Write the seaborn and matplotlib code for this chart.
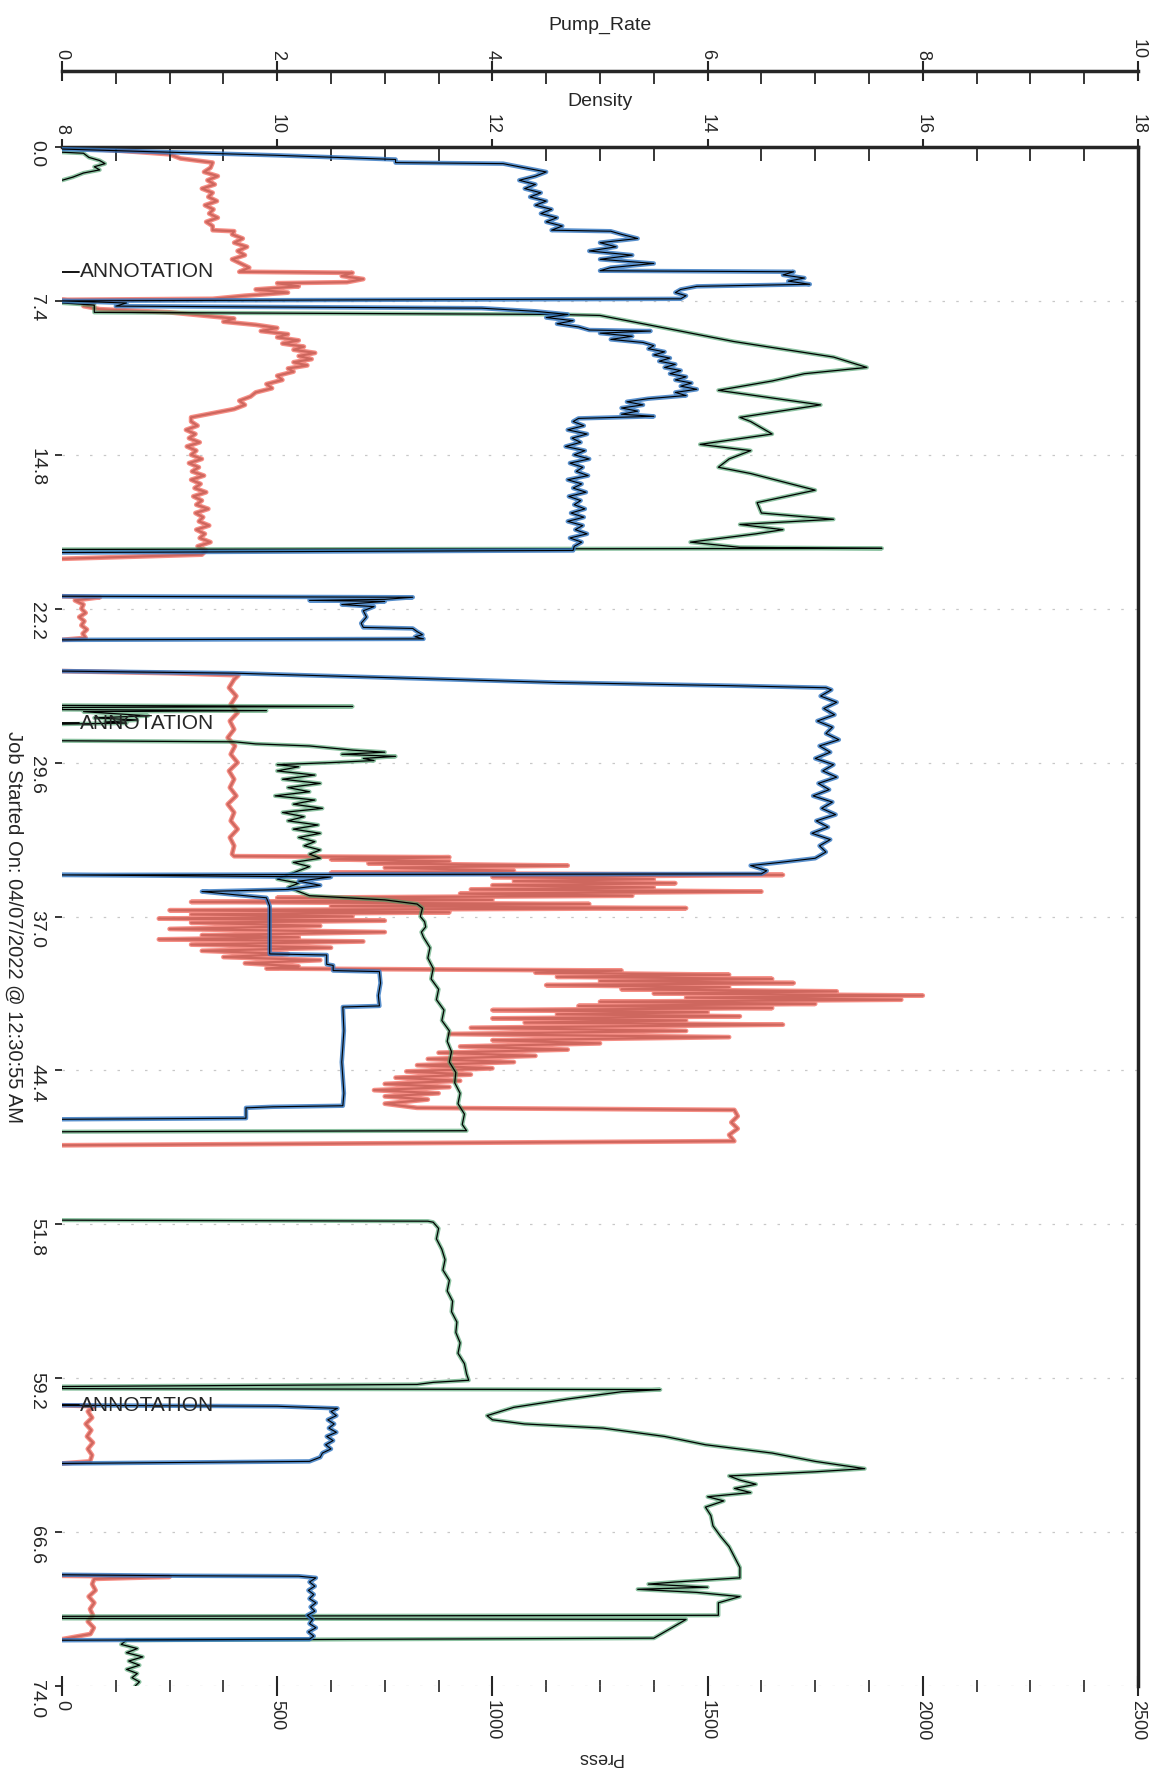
import pandas as pd
import seaborn as sns
import matplotlib.pyplot as plt
from matplotlib.ticker import MultipleLocator

sns.set_style('white')
plt.rcParams['font.family'] = ['Liberation Sans', 'DejaVu Sans']

# each list is one continuous run of the recorder: (elapsed minutes, value)
press_a = [(0.0, 0), (0.2, 150), (0.35, 250), (0.55, 275), (0.75, 350),
           (1.0, 345), (1.2, 330), (1.4, 362), (1.6, 338), (1.8, 355), (2.0, 325), (2.2, 350),
           (2.4, 340), (2.6, 360), (2.8, 332), (3.0, 352), (3.2, 342), (3.4, 362), (3.6, 335),
           (3.8, 350), (4.0, 350), (4.05, 400), (4.2, 395), (4.4, 420), (4.6, 400), (4.8, 430),
           (5.0, 408), (5.2, 425), (5.4, 395), (5.6, 415), (5.8, 435), (6.0, 412),
           (6.05, 675), (6.2, 650), (6.35, 700), (6.5, 662), (6.55, 500), (6.7, 550), (6.85, 450),
           (7.0, 525), (7.15, 425), (7.3, 350), (7.35, 0), (7.5, 75), (7.65, 50), (7.8, 88),
           (7.95, 250), (8.1, 325), (8.25, 400), (8.4, 375), (8.55, 450), (8.7, 500), (8.85, 462),
           (9.0, 525), (9.15, 500), (9.3, 550), (9.45, 512), (9.6, 562), (9.75, 538), (9.9, 588),
           (10.05, 550), (10.2, 580), (10.35, 538), (10.5, 570), (10.65, 525), (10.8, 538),
           (11.0, 500), (11.2, 512), (11.4, 475), (11.6, 488), (11.8, 450), (12.0, 438),
           (12.2, 412), (12.4, 425), (12.6, 400), (12.8, 350), (13.0, 300),
           (13.2, 300), (13.4, 315), (13.6, 288), (13.8, 310), (14.0, 295), (14.2, 320),
           (14.4, 290), (14.6, 312), (14.8, 300), (15.0, 325), (15.2, 295), (15.4, 318),
           (15.6, 302), (15.8, 330), (16.0, 300), (16.2, 322), (16.4, 308), (16.6, 335),
           (16.8, 305), (17.0, 325), (17.2, 312), (17.4, 340), (17.6, 310), (17.8, 328),
           (18.0, 318), (18.2, 342), (18.4, 312), (18.6, 332), (18.8, 320), (19.0, 345),
           (19.2, 315), (19.4, 335), (19.6, 325), (19.8, 0)]
press_b = [(21.6, 0), (21.65, 88), (21.8, 30), (22.0, 50), (22.2, 45), (22.4, 55), (22.6, 40),
           (22.8, 52), (23.0, 45), (23.2, 58), (23.4, 48), (23.6, 55), (23.7, 0)]
press_c = [(25.2, 0), (25.3, 250), (25.4, 410), (25.6, 400), (26.0, 388), (26.4, 405),
           (26.8, 392), (27.2, 408), (27.6, 390), (28.0, 400), (28.4, 385), (28.8, 402),
           (29.2, 392), (29.6, 408), (30.0, 388), (30.4, 400), (30.8, 390), (31.2, 405),
           (31.6, 385), (32.0, 400), (32.4, 392), (32.8, 408), (33.2, 390), (33.6, 400),
           (34.0, 395), (34.1, 400), (34.15, 900), (34.25, 625), (34.35, 900), (34.45, 712),
           (34.55, 1175), (34.65, 750), (34.8, 1050), (34.9, 625), (35.0, 1675), (35.1, 1000),
           (35.2, 1375), (35.3, 1050), (35.4, 1425), (35.5, 1000), (35.6, 1375), (35.7, 950),
           (35.8, 1625), (35.9, 925), (36.0, 1325), (36.1, 500), (36.2, 1000), (36.3, 300),
           (36.4, 1225), (36.5, 625), (36.6, 1450), (36.7, 250), (36.8, 900), (36.9, 300),
           (37.0, 675), (37.1, 225), (37.2, 750), (37.3, 300), (37.45, 600), (37.6, 250),
           (37.75, 750), (37.9, 325), (38.0, 550), (38.1, 225), (38.2, 700), (38.35, 300),
           (38.5, 625), (38.65, 325), (38.8, 525), (38.95, 375), (39.1, 600), (39.25, 425),
           (39.4, 550), (39.5, 475), (39.6, 1300), (39.7, 1100), (39.8, 1550), (39.9, 1150),
           (40.0, 1650), (40.1, 1250), (40.2, 1700), (40.3, 1125), (40.4, 1550), (40.5, 1300),
           (40.6, 1800), (40.7, 1375), (40.8, 2000), (40.9, 1450), (41.0, 1950), (41.1, 1250),
           (41.2, 1750), (41.3, 1200), (41.4, 1650), (41.5, 1000), (41.6, 1500), (41.7, 1150),
           (41.8, 1575), (41.9, 1000), (42.0, 1450), (42.1, 1075), (42.2, 1675), (42.35, 950),
           (42.5, 1450), (42.65, 900), (42.8, 1550), (42.95, 1000), (43.1, 1250), (43.25, 925),
           (43.4, 1175), (43.55, 875), (43.7, 1100), (43.85, 850), (44.0, 1050), (44.15, 825),
           (44.3, 1000), (44.45, 800), (44.6, 950), (44.75, 775), (44.9, 925), (45.05, 750),
           (45.2, 900), (45.35, 725), (45.5, 875), (45.65, 750), (45.8, 850), (46.0, 750),
           (46.2, 825), (46.3, 1562), (46.6, 1570), (46.9, 1555), (47.2, 1570), (47.5, 1550),
           (47.8, 1562), (48.0, 0)]
press_e1 = [(60.5, 0), (60.55, 75), (60.8, 60), (61.1, 70), (61.4, 55), (61.7, 68), (62.0, 58),
            (62.3, 72), (62.6, 60), (62.9, 70), (63.2, 65), (63.3, 0)]
press_e2 = [(68.7, 0), (68.75, 250), (68.85, 75), (69.1, 70), (69.4, 78), (69.7, 62),
            (70.0, 75), (70.3, 65), (70.6, 72), (70.9, 60), (71.2, 74), (71.5, 66), (71.75, 0)]

rate_a = [(0.1, 0.0), (0.25, 1.0), (0.4, 2.0), (0.6, 3.1), (0.75, 3.1), (0.8, 4.1), (1.0, 4.3),
          (1.2, 4.5), (1.4, 4.4), (1.6, 4.25), (1.8, 4.4), (2.0, 4.3), (2.2, 4.45), (2.4, 4.35),
          (2.6, 4.5), (2.8, 4.4), (3.0, 4.55), (3.2, 4.45), (3.4, 4.6), (3.6, 4.5), (3.8, 4.65),
          (4.0, 4.55), (4.05, 5.1), (4.2, 5.2), (4.4, 5.35), (4.6, 5.0), (4.8, 5.15), (5.0, 4.9),
          (5.2, 5.3), (5.4, 5.0), (5.6, 5.5), (5.8, 5.1), (5.95, 5.0), (6.0, 6.8), (6.15, 6.7),
          (6.3, 6.9), (6.45, 6.75), (6.6, 6.95), (6.7, 5.9), (6.85, 5.75), (7.0, 5.7),
          (7.15, 5.8), (7.3, 5.75), (7.4, 0.0), (7.5, 0.6), (7.65, 0.5), (7.75, 3.9),
          (7.9, 4.4), (8.05, 4.7), (8.2, 4.5), (8.35, 4.75), (8.5, 4.6), (8.65, 4.8), (8.8, 4.9),
          (8.85, 5.47), (8.95, 5.0), (9.1, 5.3), (9.25, 5.1), (9.4, 5.4), (9.55, 5.5),
          (9.7, 5.45), (9.85, 5.6), (10.0, 5.5), (10.15, 5.65), (10.3, 5.55), (10.45, 5.7),
          (10.6, 5.6), (10.75, 5.75), (10.9, 5.65), (11.05, 5.8), (11.2, 5.7), (11.35, 5.85),
          (11.5, 5.75), (11.65, 5.9), (11.8, 5.7), (11.95, 5.8), (12.1, 5.45), (12.25, 5.25),
          (12.4, 5.4), (12.55, 5.2), (12.7, 5.35), (12.85, 5.2), (12.95, 5.5), (13.05, 4.8),
          (13.2, 4.75), (13.4, 4.85), (13.6, 4.7), (13.8, 4.88), (14.0, 4.74), (14.2, 4.82),
          (14.4, 4.68), (14.6, 4.86), (14.8, 4.76), (15.0, 4.9), (15.2, 4.72), (15.4, 4.84),
          (15.6, 4.78), (15.8, 4.89), (16.0, 4.7), (16.2, 4.83), (16.4, 4.75), (16.6, 4.87),
          (16.8, 4.71), (17.0, 4.82), (17.2, 4.76), (17.4, 4.86), (17.6, 4.73), (17.8, 4.85),
          (18.0, 4.7), (18.2, 4.84), (18.4, 4.77), (18.6, 4.88), (18.8, 4.72), (19.0, 4.83),
          (19.2, 4.76), (19.4, 4.75), (19.5, 0.0)]
rate_b = [(21.6, 0.0), (21.65, 3.26), (21.75, 3.0), (21.8, 2.3), (21.85, 3.0), (22.0, 2.6),
          (22.1, 2.9), (22.3, 2.8), (22.6, 2.83), (22.9, 2.78), (23.1, 2.8), (23.15, 3.26),
          (23.3, 3.3), (23.45, 3.35), (23.55, 3.28), (23.65, 3.36), (23.7, 0.0)]
rate_c = [(25.2, 0.0), (25.3, 1.6), (25.45, 2.6), (25.6, 3.6), (25.75, 4.6), (25.9, 6.2),
          (26.0, 7.1), (26.1, 7.15), (26.4, 7.05), (26.7, 7.2), (27.0, 7.08), (27.3, 7.18),
          (27.6, 7.02), (27.9, 7.16), (28.2, 7.1), (28.5, 7.22), (28.8, 7.04), (29.1, 7.14),
          (29.4, 7.0), (29.7, 7.17), (30.0, 7.07), (30.3, 7.2), (30.6, 7.03), (30.9, 7.13),
          (31.2, 6.98), (31.5, 7.16), (31.8, 7.06), (32.1, 7.19), (32.4, 7.01), (32.7, 7.12),
          (33.0, 6.97), (33.3, 7.14), (33.6, 7.04), (33.9, 7.1), (34.2, 7.0), (34.4, 6.67),
          (34.55, 6.4), (34.8, 6.55), (34.95, 6.5), (35.0, 0.0), (35.1, 2.5), (35.3, 2.2),
          (35.5, 2.4), (35.7, 2.1), (35.8, 1.3), (35.95, 1.6), (36.1, 1.9), (36.5, 1.93),
          (38.8, 1.93), (38.85, 2.46), (39.3, 2.46), (39.35, 2.52), (39.6, 2.52), (39.65, 2.95),
          (40.2, 2.96), (40.8, 2.94), (41.3, 2.95), (41.35, 2.61), (42.5, 2.62), (44.0, 2.6),
          (45.5, 2.62), (46.1, 2.61), (46.15, 1.96), (46.2, 1.71), (46.7, 1.71), (46.75, 0.0)]
rate_e1 = [(60.5, 0.0), (60.55, 2.0), (60.65, 2.56), (60.8, 2.5), (61.0, 2.55), (61.2, 2.47),
           (61.4, 2.53), (61.6, 2.48), (61.8, 2.55), (62.0, 2.46), (62.2, 2.52), (62.4, 2.45),
           (62.6, 2.5), (62.8, 2.42), (63.0, 2.4), (63.2, 2.3), (63.3, 0.0)]
rate_e2 = [(68.65, 0.0), (68.7, 1.1), (68.72, 2.2), (68.8, 2.36), (69.0, 2.3), (69.2, 2.35),
           (69.4, 2.29), (69.6, 2.34), (69.8, 2.3), (70.0, 2.36), (70.2, 2.31), (70.4, 2.35),
           (70.6, 2.28), (70.8, 2.33), (71.0, 2.3), (71.2, 2.36), (71.4, 2.29), (71.6, 2.34),
           (71.75, 2.3), (71.8, 0.0)]

dens_a1 = [(0.25, 8.0), (0.3, 8.2), (0.5, 8.25), (0.65, 8.35), (0.8, 8.4), (0.95, 8.3),
           (1.1, 8.35), (1.25, 8.2), (1.45, 8.1), (1.6, 8.0)]
dens_a2 = [(7.5, 8.0), (7.6, 8.3), (7.95, 8.3), (8.05, 12.6), (8.1, 13.0), (8.6, 13.5),
           (9.35, 14.24), (10.1, 15.17), (10.6, 15.48), (10.9, 14.9), (11.25, 14.6),
           (11.7, 14.1), (12.4, 15.05), (13.0, 14.3), (13.2, 14.4), (13.8, 14.6), (14.3, 13.93),
           (14.6, 14.4), (15.0, 14.2), (15.4, 14.1), (15.7, 14.4), (16.5, 15.0), (17.1, 14.46),
           (17.6, 14.5), (17.9, 15.17), (18.15, 14.3), (18.4, 14.7), (18.6, 14.45),
           (19.0, 13.84), (19.25, 14.3), (19.3, 15.62), (19.35, 8.0)]
dens_c1 = [(26.85, 8.0), (26.9, 10.7), (26.95, 8.0), (27.05, 8.0), (27.1, 9.9), (27.15, 8.2),
           (27.25, 8.5), (27.35, 8.8), (27.45, 8.3), (27.55, 8.7), (27.65, 8.4), (27.7, 8.6),
           (27.75, 8.0)]
dens_c2 = [(28.55, 8.0), (28.6, 9.6), (28.7, 9.8), (28.8, 10.3), (28.9, 10.5), (29.0, 10.7),
           (29.1, 11.0), (29.2, 10.6), (29.3, 11.1), (29.4, 10.8), (29.5, 10.9), (29.6, 10.5),
           (29.7, 10.0), (29.8, 10.2), (30.0, 10.0), (30.2, 10.35), (30.4, 10.05), (30.6, 10.4),
           (30.8, 10.1), (31.0, 10.3), (31.2, 9.98), (31.4, 10.35), (31.6, 10.15), (31.8, 10.42),
           (32.0, 10.05), (32.2, 10.25), (32.4, 10.1), (32.6, 10.38), (32.8, 10.15), (33.0, 10.4),
           (33.2, 10.2), (33.4, 10.35), (33.6, 10.25), (33.8, 10.4), (34.0, 10.3), (34.2, 10.4),
           (34.4, 10.15), (34.6, 10.3), (34.8, 10.2), (35.0, 10.1), (35.2, 10.0), (35.4, 10.2),
           (35.6, 10.1), (35.8, 10.2), (36.0, 10.3), (36.2, 11.0), (36.4, 11.3), (36.6, 11.35),
           (37.0, 11.33), (37.25, 11.37), (37.5, 11.38), (37.75, 11.34), (38.0, 11.36),
           (38.5, 11.42), (39.0, 11.4), (39.5, 11.45), (40.0, 11.43), (40.5, 11.5), (41.0, 11.48),
           (41.5, 11.55), (42.0, 11.53), (42.5, 11.6), (43.0, 11.58), (43.5, 11.62), (44.0, 11.6),
           (44.5, 11.66), (45.0, 11.65), (45.5, 11.7), (46.0, 11.68), (46.5, 11.74),
           (47.0, 11.72), (47.3, 11.76), (47.35, 8.0)]
dens_d = [(51.6, 8.0), (51.65, 11.4), (51.7, 11.45), (52.0, 11.5), (52.5, 11.48), (53.0, 11.53),
          (53.5, 11.56), (54.0, 11.54), (54.5, 11.6), (55.0, 11.58), (55.5, 11.63), (56.0, 11.62),
          (56.5, 11.67), (57.0, 11.66), (57.5, 11.7), (58.0, 11.68), (58.5, 11.74), (59.0, 11.76),
          (59.3, 11.78), (59.4, 11.45), (59.5, 11.3), (59.6, 8.0), (59.7, 8.0), (59.75, 13.56),
          (59.85, 13.2), (60.2, 12.7), (60.6, 12.2), (61.0, 11.95), (61.2, 12.0), (61.4, 12.3),
          (61.6, 13.03), (62.0, 13.6), (62.4, 13.98), (62.8, 14.6), (63.2, 15.0), (63.55, 15.46),
          (63.7, 15.0), (63.9, 14.2), (64.1, 14.3), (64.3, 14.45), (64.5, 14.25), (64.7, 14.4),
          (64.9, 14.0), (65.1, 14.15), (65.4, 13.98), (65.8, 14.03), (66.3, 14.05),
          (66.8, 14.12), (67.3, 14.2), (67.8, 14.25), (68.3, 14.3), (68.8, 14.3), (69.0, 13.7),
          (69.1, 13.45), (69.25, 14.0), (69.35, 13.35), (69.5, 13.9), (69.7, 14.3),
          (70.0, 14.1), (70.6, 14.1), (70.65, 8.0), (70.75, 8.0), (70.8, 13.8), (71.7, 13.5),
          (71.8, 8.6), (72.0, 8.55), (72.2, 8.7), (72.4, 8.6), (72.6, 8.75), (72.8, 8.62),
          (73.0, 8.72), (73.2, 8.6), (73.4, 8.7), (73.6, 8.65), (73.8, 8.72), (74.0, 8.68)]

time_ticks = [0.0, 7.4, 14.8, 22.2, 29.6, 37.0, 44.4, 51.8, 59.2, 66.6, 74.0]
annotation_times = [6.0, 27.7, 60.5]
job_label = 'Job Started On: 04/07/2022 @ 12:30:55 AM'


def to_frame(runs, name):
    rows = []
    for i, run in enumerate(runs):
        for t, v in run:
            rows.append((i, t, v))
    return pd.DataFrame(rows, columns=['run', 'time', name])


press_df = to_frame([press_a, press_b, press_c, press_e1, press_e2], 'Press')
rate_df = to_frame([rate_a, rate_b, rate_c, rate_e1, rate_e2], 'Pump_Rate')
dens_df = to_frame([dens_a1, dens_a2, dens_c1, dens_c2, dens_d], 'Density')

W, H = 1155, 1784
fig = plt.figure(figsize=(W / 100, H / 100), dpi=100)
ax = fig.add_axes([62 / W, 1 - 1686 / H, 1076 / W, (1686 - 147) / H])
ax2 = ax.twiny()
ax3 = ax.twiny()


def line(axis, df, col, color, width, alpha=1.0):
    sns.lineplot(data=df, x=col, y='time', units='run', estimator=None, sort=False,
                 color=color, lw=width, alpha=alpha, legend=False, ax=axis)


# press: black trace under a broad salmon pen, so it reads as a filled band
line(ax, press_df, 'Press', 'black', 1.6)
line(ax, press_df, 'Press', '#f47a70', 3.4, 0.85)
# density and pump rate: coloured pen under a thin black trace
line(ax2, dens_df, 'Density', '#3f9a63', 3.0, 0.6)
line(ax2, dens_df, 'Density', 'black', 0.9)
line(ax3, rate_df, 'Pump_Rate', '#2f74c0', 3.2, 0.8)
line(ax3, rate_df, 'Pump_Rate', 'black', 0.8)

ax.set_xlim(0, 2500)
ax2.set_xlim(8, 18)
ax3.set_xlim(0, 10)
ax.set_ylim(74, 0)

for a in (ax, ax2, ax3):
    for s in a.spines.values():
        s.set_visible(False)
ax.spines['right'].set_visible(True)
ax.spines['right'].set_linewidth(2.5)
ax.spines['right'].set_color('#222222')
ax2.spines['top'].set_visible(True)
ax2.spines['top'].set_linewidth(2.5)
ax3.spines['top'].set_visible(True)
ax3.spines['top'].set_linewidth(2.5)
ax3.spines['top'].set_position(('outward', 55))
ax3.xaxis.set_ticks_position('top')
ax3.xaxis.set_label_position('top')

# time axis on the left
ax.set_yticks(time_ticks)
ax.set_yticklabels([f'{t:.1f}' for t in time_ticks])
ax.tick_params(axis='y', left=True, right=False, direction='out', length=5, width=1.3,
               labelrotation=-90, labelsize=14, pad=7)
ax.set_ylabel('')
ax.grid(axis='y', color='#c8c8c8', linestyle=(0, (2, 9)), lw=0.9)
ax.grid(axis='x', visible=False)

# Press along the bottom
ax.xaxis.set_major_locator(MultipleLocator(500))
ax.xaxis.set_minor_locator(MultipleLocator(125))
ax.tick_params(axis='x', which='major', bottom=True, direction='inout', length=14, width=1.5,
               labelrotation=-90, labelsize=13, pad=3)
ax.tick_params(axis='x', which='minor', bottom=True, direction='inout', length=9, width=1.2)
ax.set_xlabel('Press', fontsize=13, rotation=180, labelpad=6)

# Density along the top
ax2.xaxis.set_major_locator(MultipleLocator(2))
ax2.xaxis.set_minor_locator(MultipleLocator(0.5))
ax2.tick_params(axis='x', which='major', top=True, direction='out', length=6, width=1.5,
                labelrotation=-90, labelsize=13, pad=3)
ax2.tick_params(axis='x', which='minor', top=True, direction='in', length=10, width=1.3)
ax2.set_xlabel('Density', fontsize=14, labelpad=6)

# Pump rate above it
ax3.xaxis.set_major_locator(MultipleLocator(2))
ax3.xaxis.set_minor_locator(MultipleLocator(0.5))
ax3.tick_params(axis='x', which='major', top=True, direction='inout', length=14, width=1.5,
                labelrotation=-90, labelsize=13, pad=1)
ax3.tick_params(axis='x', which='minor', top=True, direction='in', length=9, width=1.3)
ax3.set_xlabel('Pump_Rate', fontsize=14, labelpad=7)

trans = ax3.get_yaxis_transform()
for t in annotation_times:
    ax3.plot([0.0, 0.016], [t, t], color='black', lw=1.3, transform=trans, zorder=5)
    ax3.text(0.017, t, 'ANNOTATION', transform=trans, ha='left', va='center',
             fontsize=15, zorder=6)

fig.text(14 / W, 1 - 927 / H, job_label, rotation=-90, ha='center', va='center', fontsize=14.5)

fig.savefig('out.png', dpi=100)
